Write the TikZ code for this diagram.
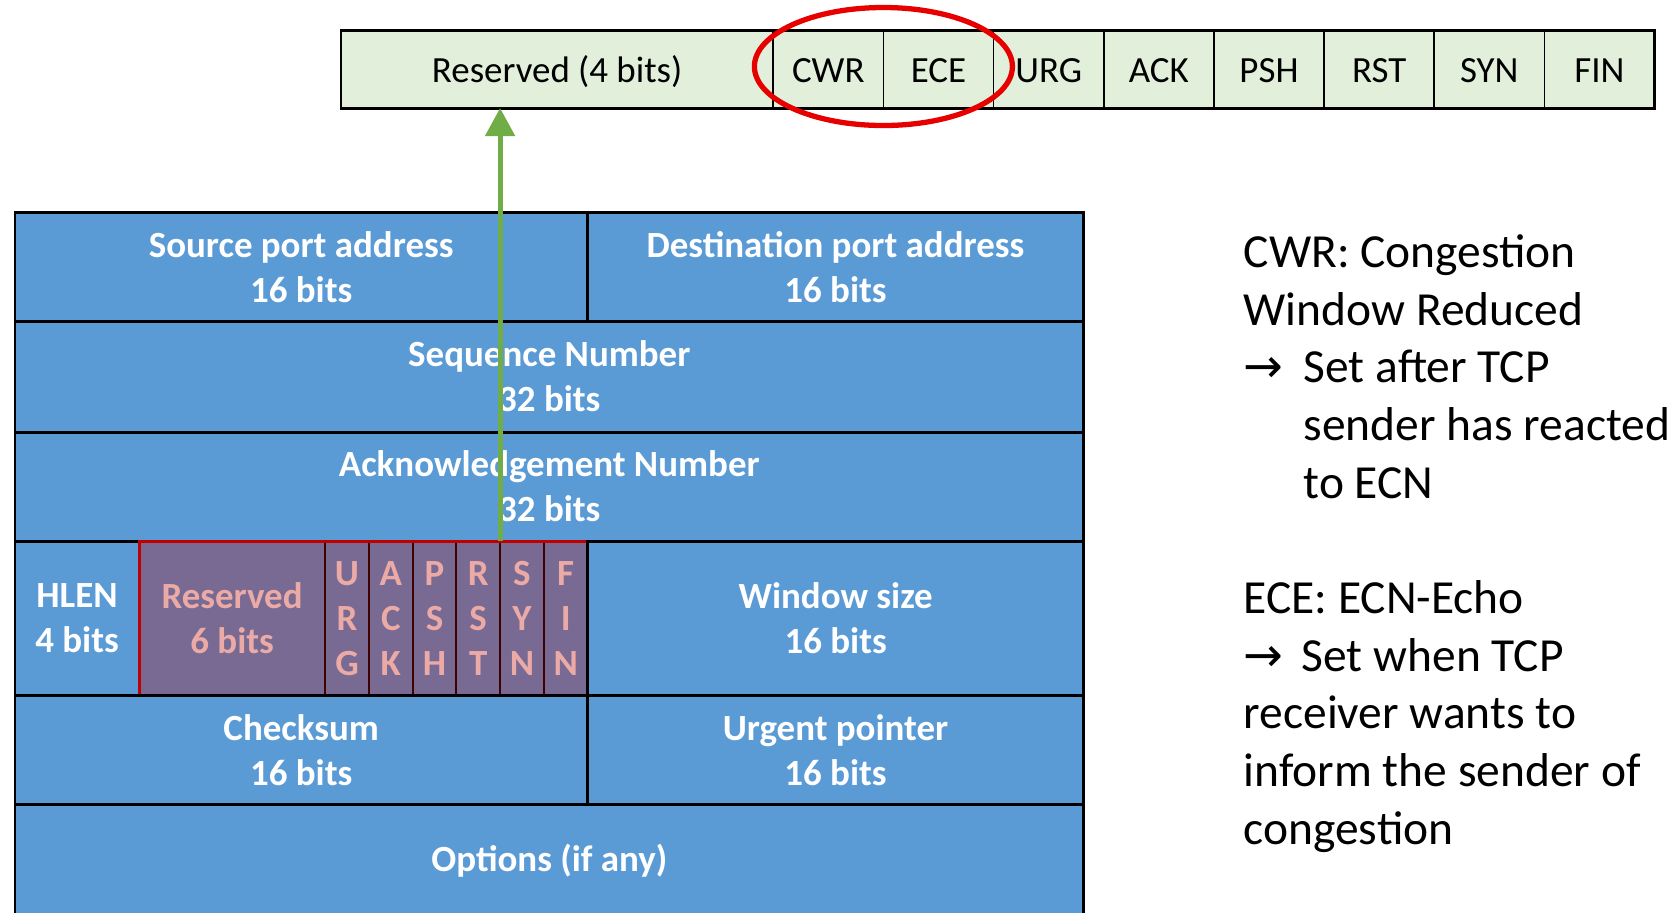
\documentclass[tikz,border=0pt]{standalone}
\usepackage{fontspec}
\setmainfont{Carlito}
\newfontfamily\symfont{DejaVu Sans}
\usetikzlibrary{arrows.meta,positioning}

\definecolor{bargreen}{HTML}{E2EFDA}
\definecolor{tcpblue}{HTML}{5B9BD5}
\definecolor{flagpurple}{HTML}{786A93}
\definecolor{flagpink}{HTML}{EBAAA5}
\definecolor{flagline}{HTML}{3F0000}
\definecolor{boxred}{HTML}{C00000}
\definecolor{ringred}{HTML}{E60000}
\definecolor{arrowgreen}{HTML}{70AD47}

\tikzset{
  bitcell/.style={draw=black, line width=0.45pt, fill=bargreen, minimum height=0.77cm,
    inner sep=0pt, outer sep=0pt, text height=1.6ex, text depth=0.1ex, font=\fontsize{10.5}{12.6}\selectfont},
  field/.style={draw=black, line width=0.85pt, fill=tcpblue, text=white, align=center,
    inner sep=0pt, outer sep=0pt, font=\fontsize{10.5}{12.8}\selectfont\bfseries},
  flagbit/.style={field, draw=flagline, line width=0.6pt, fill=flagpurple, text=flagpink,
    minimum width=0.437cm, minimum height=1.54cm},
  note/.style={align=left, inner sep=0pt, anchor=north west, font=\fontsize{13.5}{16.4}\selectfont},
}

\begin{document}
\begin{tikzpicture}[x=0.01cm, y=-0.01cm]
\useasboundingbox (0,0) rectangle (1676,913);

% flag byte, enlarged
\node[bitcell, minimum width=4.32cm, anchor=north west] (res4) at (341,31) {Reserved (4 bits)};
\foreach \f [remember=\f as \p (initially res4)] in {CWR,ECE,URG,ACK,PSH,RST,SYN,FIN}
  \node[bitcell, minimum width=1.101cm, right=0pt of \p] (\f) {\f};
\draw[line width=0.85pt] (res4.north west) rectangle (FIN.south east);
\draw[ringred, line width=1.5pt] (CWR.east) ++(0,-3) ellipse [x radius=129, y radius=59];

% TCP header
\node[field, minimum width=5.72cm, minimum height=1.08cm, anchor=north west] (src) at (15,213) {Source port address\\16 bits};
\node[field, minimum width=4.96cm, minimum height=1.08cm, right=0pt of src] (dst) {Destination port address\\16 bits};
\node[field, minimum width=10.68cm, minimum height=1.11cm, below=0pt of src.south west, anchor=north west] (seq) {Sequence Number\\32 bits};
\node[field, minimum width=10.68cm, minimum height=1.09cm, below=0pt of seq.south west, anchor=north west] (ack) {Acknowledgement Number\\32 bits};
\node[field, minimum width=1.24cm, minimum height=1.54cm, below=0pt of ack.south west, anchor=north west] (hlen) {HLEN\\4 bits};
\node[flagbit, minimum width=1.86cm, right=0pt of hlen, alias=f0] (res6) {Reserved\\6 bits};
\foreach \a/\b/\c [count=\i, remember=\i as \j (initially 0)] in {U/R/G,A/C/K,P/S/H,R/S/T,S/Y/N,F/I/N}
  \node[flagbit, right=0pt of f\j] (f\i) {\a\\\b\\\c};
\draw[boxred, line width=0.85pt] (res6.north west) rectangle (f6.south east);
\node[field, minimum width=4.96cm, minimum height=1.54cm, right=0pt of f6] (win) {Window size\\16 bits};
\node[field, minimum width=5.72cm, minimum height=1.09cm, below=0pt of hlen.south west, anchor=north west] (chk) {Checksum\\16 bits};
\node[field, minimum width=4.96cm, minimum height=1.09cm, right=0pt of chk] (urg) {Urgent pointer\\16 bits};
\node[field, minimum width=10.68cm, minimum height=1.12cm, below=0pt of chk.south west, anchor=north west] (opt) {Options (if any)};

\draw[arrowgreen, line width=1.4pt, -{Triangle[width=8.3pt, length=8pt]}] (f4.north east) -- (f4.north east |- res4.south);

% explanation
\node[note] (expl) at (1243,234) {CWR: Congestion\\
  Window Reduced\\
  \makebox[0.6cm][l]{\symfont →}Set after TCP\\
  \hspace*{0.6cm}sender has reacted\\
  \hspace*{0.6cm}to ECN\\[16.4pt]
  ECE: ECN-Echo\\
  \makebox[0.58cm][l]{\symfont →}Set when TCP\\
  receiver wants to\\
  inform the sender of\\
  congestion};
\end{tikzpicture}
\end{document}
